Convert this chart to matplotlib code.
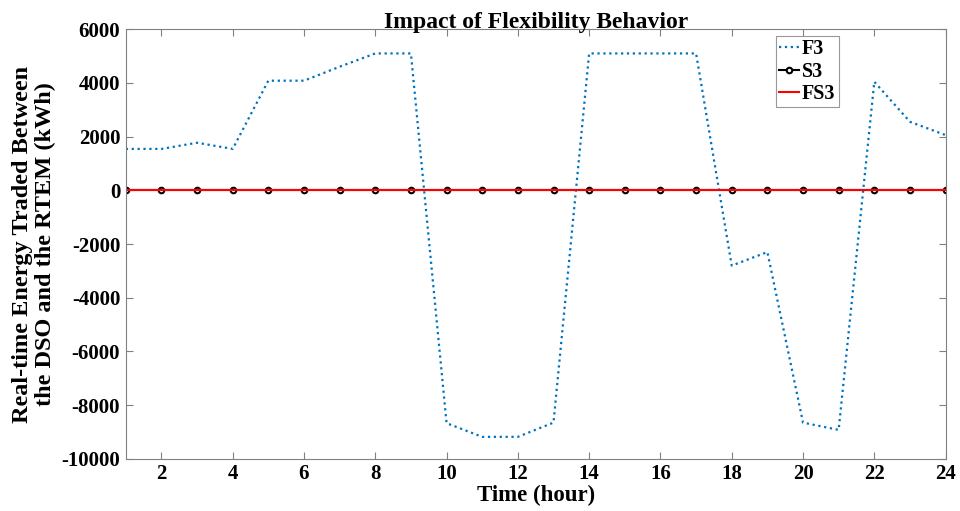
import numpy as np
import matplotlib.pyplot as plt

plt.rcParams['font.family'] = ['Liberation Serif', 'DejaVu Serif']
plt.rcParams['font.weight'] = 'bold'
plt.rcParams['axes.unicode_minus'] = False

hours = list(range(1, 25))
f3 = [1540, 1540, 1770, 1540, 4080, 4080, 4600, 5095, 5095, -8670, -9180, -9180,
      -8650, 5095, 5095, 5095, 5095, -2805, -2300, -8650, -8920, 4040, 2550, 2055]
s3 = [0] * 24
fs3 = [0] * 24

fig = plt.figure(figsize=(9.6, 5.11), dpi=100)
ax = fig.add_axes([0.131, 0.102, 0.854, 0.841])

ax.plot(hours, f3, linestyle=':', color='#0072BD', linewidth=1.6, label='F3')
ax.plot(hours, s3, '-o', color='black', linewidth=1.5, markersize=4,
        markerfacecolor='white', markeredgewidth=1.5, label='S3')
ax.plot(hours, fs3, '-', color='red', linewidth=1.5, label='FS3')

ax.set_xlim(1, 24)
ax.set_ylim(-10000, 6000)
ax.set_xticks(range(2, 25, 2))
ax.set_yticks(range(-10000, 6001, 2000))
ax.tick_params(direction='in', top=True, right=True, labelsize=15, length=5,
               color='#808080', pad=4)
for s in ax.spines.values():
    s.set_color('#808080')

ax.set_title('Impact of Flexibility Behavior', fontsize=17, fontweight='bold', pad=1)
ax.set_xlabel('Time (hour)', fontsize=16.5, fontweight='bold', labelpad=0)
ax.set_ylabel('Real-time Energy Traded Between\nthe DSO and the RTEM (kWh)',
              fontsize=17.5, fontweight='bold', labelpad=4, linespacing=1.1)

leg = ax.legend(loc='upper left', bbox_to_anchor=(0.793, 0.983), fontsize=14.5,
                frameon=True, fancybox=False, edgecolor='#808080',
                handlelength=1.0, handletextpad=0.15, borderpad=0.15,
                labelspacing=0.12, borderaxespad=0)
leg.get_frame().set_linewidth(0.8)

fig.savefig('out.png', dpi=100)
